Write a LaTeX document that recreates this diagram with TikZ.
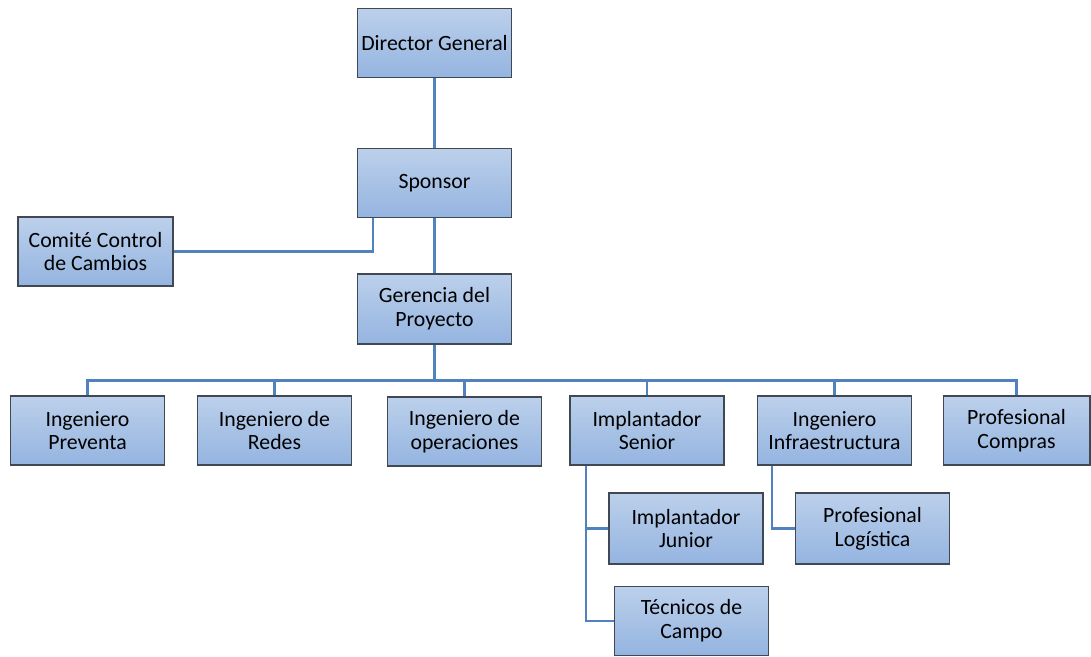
\documentclass[tikz,border=0pt]{standalone}
\usepackage{fontspec}
\setmainfont{Carlito}
\definecolor{boxtop}{RGB}{188,208,235}
\definecolor{boxbot}{RGB}{148,180,224}
\definecolor{boxline}{RGB}{64,72,84}
\definecolor{linkblue}{RGB}{80,130,192}

\begin{document}
\begin{tikzpicture}[x=0.02cm,y=-0.02cm,
  box/.style={draw=boxline, line width=0.6pt, top color=boxtop, bottom color=boxbot,
    minimum width=3.08cm, minimum height=1.38cm, align=center, inner sep=2pt,
    font=\fontsize{12.4}{13.5}\selectfont},
  link/.style={draw=linkblue, line width=1.5pt}]
  \useasboundingbox (0,0) rectangle (1091,656);
  % upper chain
  \node [box] (dir) at (434.5,43) {Director General};
  \node [box] (spon) at (434.5,183) {Sponsor};
  \node [box, minimum width=3.1cm] (ccc) at (95.5,251.5) {Comité Control\\de Cambios};
  \node [box, minimum height=1.4cm] (ger) at (434.5,309) {Gerencia del\\Proyecto};
  % second level
  \node [box] (prev) at (87.5,430.5) {Ingeniero\\Preventa};
  \node [box] (redes) at (274.5,430.5) {Ingeniero de\\Redes};
  \node [box] (oper) at (464.5,431.5) {Ingeniero de\\operaciones};
  \node [box] (senior) at (647,430.5) {Implantador\\Senior};
  \node [box] (infra) at (834.5,430.5) {Ingeniero\\Infraestructura};
  \node [box, minimum width=2.94cm] (compras) at (1016.5,430.5) {Profesional\\Compras};
  % third level
  \node [box, minimum height=1.42cm] (junior) at (686,528.5) {Implantador\\Junior};
  \node [box] (tecn) at (691.5,621) {Técnicos de\\Campo};
  \node [box, minimum height=1.42cm] (logis) at (872.5,528.5) {Profesional\\Logística};

  \draw [link] (dir) -- (spon);
  \draw [link] (spon) -- (ger);
  \draw [link] ([xshift=-1.23cm]spon.south) |- (ccc.east);
  \coordinate (bus) at ([yshift=-0.72cm]ger.south);
  \draw [link] (ger) -- (bus);
  \foreach \n in {prev,redes,oper,senior,infra,compras}
    \draw [link] (bus) -| (\n);
  \draw [link] ([xshift=-1.22cm]senior.south) |- (junior);
  \draw [link] ([xshift=-1.22cm]senior.south) |- (tecn);
  \draw [link] ([xshift=-1.25cm]infra.south) |- (logis);
\end{tikzpicture}
\end{document}
